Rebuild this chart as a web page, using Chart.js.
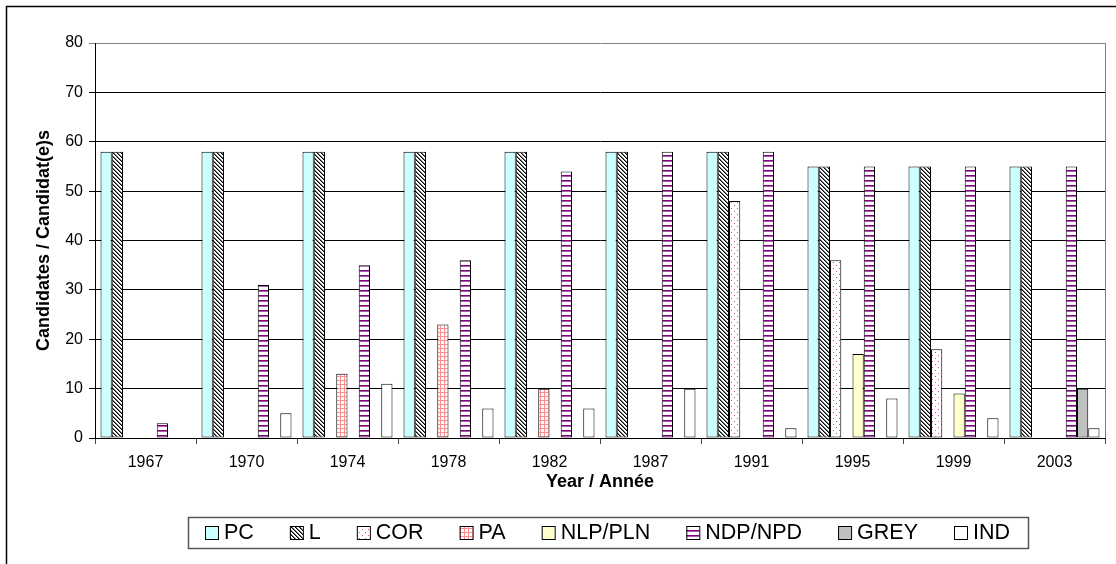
<!DOCTYPE html>
<html><head><meta charset="utf-8">
<script src="https://cdn.jsdelivr.net/npm/chart.js@4.4.1/dist/chart.umd.min.js"></script>
<style>html,body{margin:0;padding:0;background:#fff;} canvas{display:block;}</style>
</head><body>
<canvas id="c" width="1116" height="564"></canvas>
<script>
// ---- data ----
const years = ['1967','1970','1974','1978','1982','1987','1991','1995','1999','2003'];
const seriesNames = ['PC','L','COR','PA','NLP/PLN','NDP/NPD','GREY','IND'];
const pcValues   = [58,58,58,58,58,58,58,55,55,55];
const lValues    = [58,58,58,58,58,58,58,55,55,55];
const corValues  = [0,0,0,0,0,0,48,36,18,0];
const paValues   = [0,0,13,23,10,0,0,0,0,0];
const nlpValues  = [0,0,0,0,0,0,0,17,9,0];
const ndpValues  = [3,31,35,36,54,58,58,55,55,55];
const greyValues = [0,0,0,0,0,0,0,0,0,10];
const indValues  = [0,5,11,6,6,10,2,8,4,2];
const yTickValues = [0,10,20,30,40,50,60,70,80];
const xTitle = 'Year / Année';
const yTitle = 'Candidates / Candidat(e)s';

// ---- patterns ----
const helper = document.createElement('canvas').getContext('2d');
function tile(w, h, bg, fn) {
  const c = document.createElement('canvas'); c.width = w; c.height = h;
  const g = c.getContext('2d'); g.fillStyle = bg; g.fillRect(0, 0, w, h);
  fn(g);
  return helper.createPattern(c, 'repeat');
}
const hatchL = tile(4, 4, '#fff', g => {
  for (let y = 0; y < 4; y++) for (let x = 0; x < 4; x++) {
    const k = (x - y + 8) % 4;
    if (k === 0) { g.fillStyle = '#000'; g.fillRect(x, y, 1, 1); }
    else if (k === 1) { g.fillStyle = '#777'; g.fillRect(x, y, 1, 1); }
  }
});
const dotsCOR = tile(6, 6, '#fff', g => {
  g.fillStyle = '#c8509a'; g.fillRect(2, 1, 1, 1); g.fillRect(5, 4, 1, 1);
});
const gridPA = tile(4, 4, '#fff', g => {
  g.fillStyle = '#ff8c8c'; g.fillRect(0, 0, 4, 1); g.fillRect(0, 0, 1, 4);
});
const stripesNDP = tile(5, 5, '#fff', g => {
  g.fillStyle = '#800080'; g.fillRect(0, 0, 5, 1);
  g.fillStyle = '#a860ae'; g.fillRect(0, 1, 5, 1);
});

const fills = [ '#ccffff', hatchL, dotsCOR, gridPA, '#ffffcc', stripesNDP, '#c0c0c0', '#ffffff' ];
const valueSets = [pcValues, lValues, corValues, paValues, nlpValues, ndpValues, greyValues, indValues];

const FAMILY = '"Liberation Sans", Arial, sans-serif';
Chart.defaults.font.family = FAMILY;
Chart.defaults.color = '#000';

// ---- plugins (frame and boxed legend) ----
const framePlugin = {
  id: 'frame',
  beforeDraw(chart) {
    const c = chart.ctx; c.save(); c.fillStyle = '#fff'; c.fillRect(0, 0, chart.width, chart.height); c.restore();
  },
  afterDraw(chart) {
    const c = chart.ctx, a = chart.chartArea;
    c.save();
    c.strokeStyle = '#000'; c.lineWidth = 1.5;
    c.beginPath(); c.moveTo(6.5, chart.height); c.lineTo(6.5, 6.5); c.lineTo(chart.width, 6.5); c.stroke();
    c.strokeStyle = '#808080'; c.lineWidth = 1;
    const rx = Math.round(a.right) + 0.5;
    c.beginPath(); c.moveTo(rx, Math.round(a.top)); c.lineTo(rx, Math.round(a.bottom)); c.stroke();
    c.restore();
  }
};

const legendPlugin = {
  id: 'boxLegend',
  afterDraw(chart) {
    const c = chart.ctx;
    c.save();
    c.font = '21.5px ' + FAMILY;
    const box = 13, gapText = 6, gapItem = 36, padL = 17, padR = 18;
    const items = chart.data.datasets.map(ds => ({ ds, w: c.measureText(ds.label).width }));
    let total = padL + padR;
    items.forEach((it, i) => { total += box + gapText + it.w + (i < items.length - 1 ? gapItem : 0); });
    const centerX = 608.5, top = 517, bottom = 548;
    const left = Math.round(centerX - total / 2);
    c.strokeStyle = '#555'; c.lineWidth = 1.5;
    c.strokeRect(left + 0.5, top + 0.5, Math.round(total), bottom - top);
    const cy = (top + bottom) / 2;
    let x = left + padL;
    items.forEach(it => {
      const by = Math.round(cy - box / 2);
      c.fillStyle = it.ds.backgroundColor; c.fillRect(x, by, box, box);
      c.strokeStyle = '#000'; c.lineWidth = 1; c.strokeRect(x + 0.5, by + 0.5, box, box);
      c.fillStyle = '#000'; c.textBaseline = 'middle'; c.textAlign = 'left';
      c.fillText(it.ds.label, x + box + gapText, cy + 1);
      x += box + gapText + it.w + gapItem;
    });
    c.restore();
  }
};

new Chart(document.getElementById('c'), {
  type: 'bar',
  data: {
    labels: years,
    datasets: seriesNames.map((name, i) => ({
      label: name,
      data: valueSets[i],
      backgroundColor: fills[i],
      borderColor: '#000',
      borderWidth: 1,
      borderSkipped: false,
      categoryPercentage: 0.891,
      barPercentage: 1
    }))
  },
  options: {
    responsive: false,
    animation: false,
    devicePixelRatio: 1,
    layout: { padding: { left: 0, top: 43, right: 11, bottom: 66 } },
    plugins: { legend: { display: false }, tooltip: { enabled: false } },
    scales: {
      x: {
        grid: { offset: true, drawOnChartArea: false, drawTicks: true, tickLength: 6, color: '#444' },
        border: { color: '#000', width: 1 },
        ticks: { font: { size: 16 }, color: '#000', padding: 9, maxRotation: 0, autoSkip: false },
        title: { display: true, text: xTitle, font: { size: 18, weight: 'bold' }, color: '#000', padding: { top: 2, bottom: 5 } },
        afterFit(s) { s.height = 60; }
      },
      y: {
        min: 0, max: 80,
        afterBuildTicks(s) { s.ticks = yTickValues.map(v => ({ value: v })); },
        ticks: { font: { size: 16 }, color: '#000', padding: 6 },
        grid: { color: c => (c.tick && c.tick.value === 80) ? '#808080' : '#000', tickLength: 6, drawTicks: true },
        border: { color: '#000', width: 1 },
        title: { display: true, text: yTitle, font: { size: 18, weight: 'bold' }, color: '#000', padding: { top: 33, bottom: 0 } },
        afterFit(s) { s.width = 95; }
      }
    }
  },
  plugins: [framePlugin, legendPlugin]
});
</script>
</body></html>
